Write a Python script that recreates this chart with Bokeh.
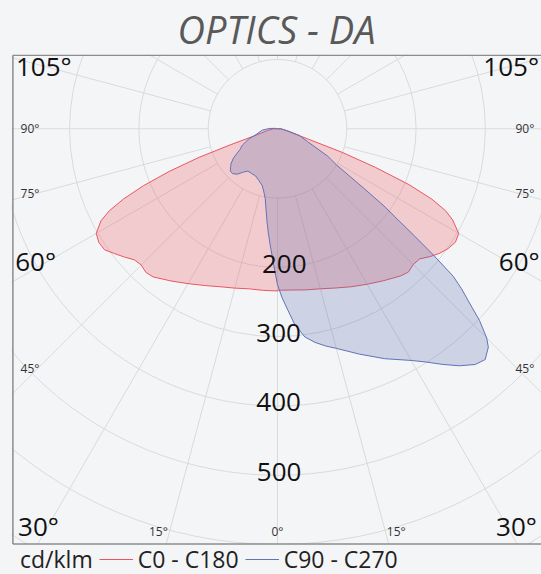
import numpy as np
from bokeh.plotting import figure
from bokeh.models import Legend, LegendItem, ColumnDataSource, Range1d
from bokeh.embed import file_html
from bokeh.resources import INLINE
from bokeh.core.properties import value

# ---------------- data ----------------
title_text = "OPTICS - DA"
unit_label = "cd/klm"
series_names = ["C0 - C180", "C90 - C270"]

# C0 plane (right half of the red curve): gamma in degrees, intensity cd/klm
c0_gamma = [0, 5, 10, 15, 20, 25, 30, 35, 40, 42.5, 45, 47.5, 50, 52.5, 55, 57.5,
            60, 62.5, 64, 65.5, 67, 68.5, 70, 73, 80, 90, 180]
c0_int = [233, 233.5, 236, 239, 244.5, 251.5, 259, 267.5, 277, 280, 277, 278, 287,
          295, 301, 304.5, 302, 285, 270, 245, 206, 152, 99, 30, 12, 5, 0]

# C180 plane (left half of the red curve)
c180_gamma = [0, 5, 10, 15, 20, 25, 30, 35, 40, 42.5, 45, 47.5, 50, 52.5, 55, 57.5,
              60, 62.5, 64, 65.5, 67, 68.5, 70, 71.2, 73, 80, 90, 180]
c180_int = [234, 234, 234.5, 238, 242.5, 249.5, 258, 268, 279, 281, 278, 280, 288,
            296, 304.5, 305.5, 302, 287, 270, 244, 210, 168, 120, 72, 35, 15, 6, 0]

# C90 plane (right half of the blue curve)
c90_gamma = [0, 1.5, 3, 5, 7.5, 10, 12.5, 15, 20, 25, 30, 32.5, 35, 37.5, 40, 42,
             44, 45, 46.5, 48, 49, 50, 51, 52, 53, 54, 55.5, 58.5, 61.5, 67, 73, 78,
             90, 180]
c90_int = [225, 243, 259, 283, 303, 313, 321, 328, 346, 366, 386, 399, 415, 431, 444,
           448, 438, 427, 402, 370, 352, 331, 290, 250, 216, 192, 150, 100, 82, 47, 33,
           16, 5, 0]

# C270 plane (left half of the blue curve)
c270_gamma = [0, 1.5, 3.5, 5, 6.5, 10, 12.5, 15, 20, 25, 30, 35, 38, 41.5, 45, 48,
              51, 53, 56.5, 61, 65, 70, 75, 85, 92, 100, 180]
c270_int = [225, 198, 169, 151, 134, 102, 92, 85, 79, 75, 74.5, 74.5, 79, 87.5, 91.5,
            91.5, 87, 84, 76, 62, 56, 45, 32, 22, 12, 4, 0]

ring_values = [100, 200, 300, 400, 500, 600, 700]
ring_label_values = [200, 300, 400, 500]
spoke_angles = list(range(0, 360, 15))

big_angle_labels = ["105°", "60°", "30°"]
small_side_labels = ["90°", "75°", "45°"]
bottom_labels = ["15°", "0°", "15°"]

# ---------------- styling / layout ----------------
BG = "#f4f5f7"
GRID = "#d9dadc"
FRAME = "#8c8c8c"
RED_LINE = "#ec5560"
RED_FILL = "#ec5153"
BLUE_LINE = "#6273b8"
BLUE_FILL = "#586dab"
FONT = "Open Sans"

# plotting area (frame) runs down to the page bottom so the legend fits inside it;
# the visible chart box is drawn separately
X0, X1 = -383.8, 381.0
Y0, Y1 = -646.0, 107.2
BOX_L, BOX_T, BOX_B = -381.8, 106.2, -599.1

p = figure(width=541, height=574, frame_width=530, frame_height=522,
           output_backend="svg", toolbar_location=None,
           x_range=Range1d(X0, X1), y_range=Range1d(Y0, Y1),
           min_border_left=11, min_border_right=0, min_border_top=52,
           min_border_bottom=0)
p.axis.visible = False
p.xgrid.visible = False
p.ygrid.visible = False
p.background_fill_color = BG
p.border_fill_color = BG
p.outline_line_color = None

p.title.text = title_text
p.title.text_font = FONT
p.title.text_font_style = "italic"
p.title.text_font_size = "38px"
p.title.text_color = "#595959"
p.title.align = "center"
p.title.standoff = 0

# grid: rings and spokes
p.circle(x=[0] * len(ring_values), y=[0] * len(ring_values), radius=ring_values,
         fill_color=None, line_color=GRID, line_width=1)
ang = np.radians(spoke_angles)
r_in, r_out = ring_values[0], 900
p.segment(x0=r_in * np.sin(ang), y0=-r_in * np.cos(ang),
          x1=r_out * np.sin(ang), y1=-r_out * np.cos(ang),
          line_color=GRID, line_width=1)


def curve_xy(left_g, left_i, right_g, right_i):
    lg = np.radians(np.array(left_g, dtype=float))[::-1]
    li = np.array(left_i, dtype=float)[::-1]
    rg = np.radians(np.array(right_g, dtype=float))
    ri = np.array(right_i, dtype=float)
    xs = np.concatenate([-li * np.sin(lg), ri * np.sin(rg)])
    ys = np.concatenate([-li * np.cos(lg), -ri * np.cos(rg)])
    return xs, ys


rx, ry = curve_xy(c180_gamma, c180_int, c0_gamma, c0_int)
bx, by = curve_xy(c270_gamma, c270_int, c90_gamma, c90_int)

p.patch(rx, ry, fill_color=RED_FILL, fill_alpha=0.25, line_color=None)
red_outline = p.line(rx, ry, line_color=RED_LINE, line_width=1)
p.patch(bx, by, fill_color=BLUE_FILL, fill_alpha=0.25, line_color=None)
blue_outline = p.line(bx, by, line_color=BLUE_LINE, line_width=1)


def add_text(xs, ys, texts, size, color):
    src = ColumnDataSource(dict(x=xs, y=ys, t=texts))
    p.text(x="x", y="y", text="t", source=src, text_font=value(FONT),
           text_font_size=size, text_color=color, text_align="center",
           text_baseline="middle")


# ring value labels
ring_lab_x = [9.8, 1.6, 1.6, 2.3]
add_text(ring_lab_x, [-(v - 5.5) for v in ring_label_values],
         [str(v) for v in ring_label_values], "26px", "#111111")

# large corner angle labels (left and right)
big_x = [337.2, 348.9, 344.9]
big_y = [90.3, -191.2, -572.9]
add_text([-x for x in big_x] + big_x, big_y + big_y, big_angle_labels * 2, "26px",
         "#111111")

# small side angle labels
side_y = [0.0, -93.7, -345.6]
add_text([-357.1] * 3 + [357.1] * 3, side_y + side_y, small_side_labels * 2, "12px",
         "#333333")

# bottom angle labels
add_text([-171.9, 0.0, 171.4], [-580.4] * 3, bottom_labels, "12px", "#333333")

# hide the grid below the chart box, then draw the box edges
p.quad(left=X0 - 10, right=X1 + 10, top=BOX_B, bottom=Y0 - 10, fill_color=BG,
       line_color=None)
p.segment(x0=[BOX_L, BOX_L, BOX_L], y0=[BOX_B, BOX_T, BOX_B],
          x1=[BOX_L, X1 + 10, X1 + 10], y1=[BOX_T, BOX_T, BOX_B],
          line_color=FRAME, line_width=1.5)

# legend (unit shown as a first, glyph-less entry)
leg_unit = p.line([], [], line_alpha=0)
legend = Legend(items=[LegendItem(label=unit_label, renderers=[leg_unit]),
                       LegendItem(label=series_names[0], renderers=[red_outline]),
                       LegendItem(label=series_names[1], renderers=[blue_outline])],
                orientation="horizontal", location=(-30, 1))
legend.label_text_font = FONT
legend.label_text_font_size = "23px"
legend.label_text_color = "#222222"
legend.glyph_width = 34
legend.label_standoff = 5
legend.spacing = 6
legend.padding = 0
legend.margin = 0
legend.border_line_color = None
legend.background_fill_alpha = 0
p.add_layout(legend)

html = file_html(p, INLINE)
html = html.replace("</head>", "<style>body{background:%s;}</style></head>" % BG, 1)
open("out.html", "w").write(html)
